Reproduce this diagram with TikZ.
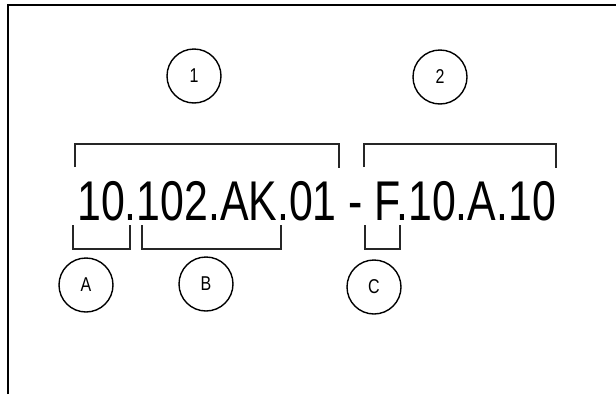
\documentclass[tikz,border=0pt]{standalone}
\usepackage{fontspec}
\setmainfont{Liberation Sans}
\newfontfamily\codefont[FakeStretch=0.765]{Liberation Sans}
\newfontfamily\tagfont[FakeStretch=0.8]{Liberation Sans}
\begin{document}
\begin{tikzpicture}[x=1pt, y=-1pt,
  bracketline/.style={draw=black!85, line width=1.5pt},
  tagcircle/.style={circle, draw=black, line width=1.4pt, minimum size=54pt,
    inner sep=0pt, font=\tagfont\fontsize{20}{22}\selectfont},
  codetext/.style={anchor=base west, inner sep=0pt,
    font=\codefont\fontsize{56}{60}\selectfont}]
  \useasboundingbox (0,0) rectangle (616,394);
  \fill[white] (0,0) rectangle (616,394);

  % outer frame (left and top edges)
  \draw[line width=2pt] (8,394) -- (8,5) -- (616,5);

  % the code string
  \node[codetext] (code) at (77,220) {10.102.AK.01 - F.10.A.10};

  % brackets above the two groups
  \draw[bracketline] (75,167) -- (75,144) -- (339,144) -- (339,168);
  \draw[bracketline] (364,167) -- (364,144) -- (556,144) -- (556,168);

  % brackets below the parts
  \draw[bracketline] (73,225) -- (73,249) -- (130,249) -- (130,225);
  \draw[bracketline] (142,225) -- (142,249) -- (281,249) -- (281,225);
  \draw[bracketline] (365,225) -- (365,249) -- (400,249) -- (400,225);

  % numbered and lettered tags
  \node[tagcircle] (t1) at (194,76) {1};
  \node[tagcircle] (t2) at (440,77) {2};
  \node[tagcircle] (tA) at (86,285) {A};
  \node[tagcircle] (tB) at (206,284) {B};
  \node[tagcircle] (tC) at (374,287) {C};
\end{tikzpicture}
\end{document}
